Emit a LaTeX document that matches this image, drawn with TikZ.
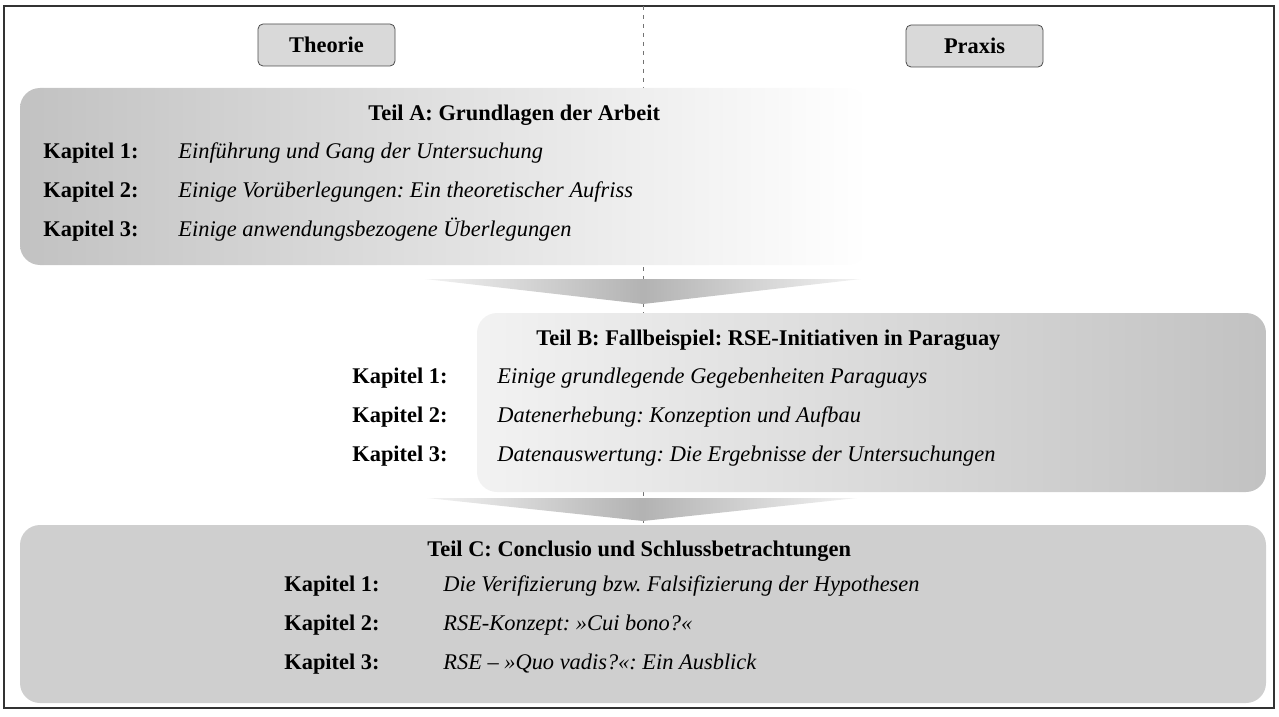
\documentclass[tikz,border=0pt]{standalone}
\usepackage{fontspec}
\setmainfont{Liberation Serif}
\usetikzlibrary{positioning}

\newcommand{\plainsize}{\fontsize{11.2}{13}\selectfont\frenchspacing}

\begin{document}
\begin{tikzpicture}[x=0.5pt,y=-0.5pt,node distance=19.5pt,
    head/.style={draw=black!70,fill=black!15,rounded corners=2.5pt,
      font=\plainsize\bfseries,minimum width=68.5pt,minimum height=21pt},
    kap/.style={anchor=west,inner sep=0pt,text height=1.6ex,text depth=.45ex,
      font=\plainsize\bfseries},
    desc/.style={kap,font=\plainsize\itshape},
    part/.style={kap},
    flow/.style={left color=black!5,right color=black!5,middle color=black!30}]
    \useasboundingbox (0,0) rectangle (1279,717);
    % frame and middle line
    \draw[black!80,line width=1pt] (4,6) rectangle (1274,708);
    \coordinate (mtop) at (643,6);
    \coordinate (mbot) at (643,525);
    \draw[black!55,line width=0.5pt,dash pattern=on 2pt off 2.5pt] (mtop) -- (mbot);
    % headers
    \node[head] (theorie) at (326.5,45) {Theorie};
    \node[head] (praxis) at (974.5,46) {Praxis};
    % part boxes
    \shade[rounded corners=10pt,left color=black!24,middle color=black!19,right color=white]
      (20,88) rectangle (868,265);
    \shade[rounded corners=10pt,left color=black!5,right color=black!24]
      (477,313) rectangle (1266,492);
    \fill[black!19,rounded corners=10pt] (20,525) rectangle (1266,703);
    % arrows between parts
    \shade[flow] (425,279) -- (861,279) -- (643,304) -- cycle;
    \shade[flow] (427,498) -- (857,498) -- (643,521) -- cycle;
    % Teil A
    \node[part] (tA) at (368,115) {Teil A: Grundlagen der Arbeit};
    \node[kap] (a1) at (43,153) {Kapitel 1:};
    \node[kap] (a2) [below of=a1] {Kapitel 2:};
    \node[kap] (a3) [below of=a2] {Kapitel 3:};
    \node[desc] (da1) at (178,0 |- a1) {Einführung und Gang der Untersuchung};
    \node[desc] (da2) at (178,0 |- a2) {Einige Vorüberlegungen: Ein theoretischer Aufriss};
    \node[desc] (da3) at (178,0 |- a3) {Einige anwendungsbezogene Überlegungen};
    % Teil B
    \node[part] (tB) at (536,340) {Teil B: Fallbeispiel: RSE-Initiativen in Paraguay};
    \node[kap] (b1) at (352,378) {Kapitel 1:};
    \node[kap] (b2) [below of=b1] {Kapitel 2:};
    \node[kap] (b3) [below of=b2] {Kapitel 3:};
    \node[desc] (db1) at (497,0 |- b1) {Einige grundlegende Gegebenheiten Paraguays};
    \node[desc] (db2) at (497,0 |- b2) {Datenerhebung: Konzeption und Aufbau};
    \node[desc] (db3) at (497,0 |- b3) {Datenauswertung: Die Ergebnisse der Untersuchungen};
    % Teil C
    \node[part] (tC) at (427,551) {Teil C: Conclusio und Schlussbetrachtungen};
    \node[kap] (c1) at (284,586) {Kapitel 1:};
    \node[kap] (c2) [below of=c1] {Kapitel 2:};
    \node[kap] (c3) [below of=c2] {Kapitel 3:};
    \node[desc] (dc1) at (443,0 |- c1) {Die Verifizierung bzw. Falsifizierung der Hypothesen};
    \node[desc] (dc2) at (443,0 |- c2) {RSE-Konzept: »Cui bono?«};
    \node[desc] (dc3) at (443,0 |- c3) {RSE – »Quo vadis?«: Ein Ausblick};
  \end{tikzpicture}
\end{document}
